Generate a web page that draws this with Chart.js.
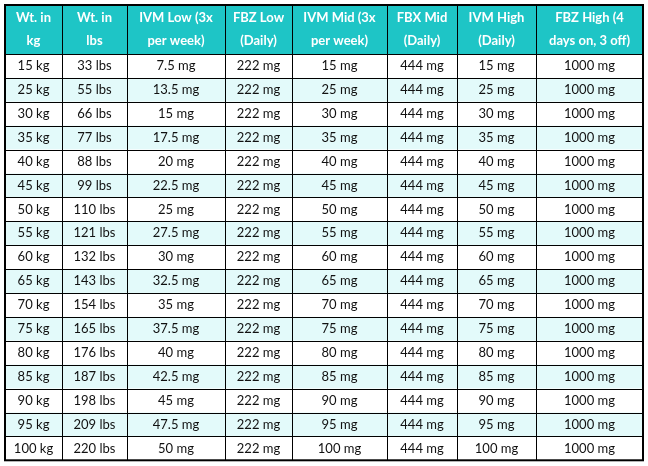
<!DOCTYPE html>
<html>
<head>
<meta charset="utf-8">
<script src="https://cdn.jsdelivr.net/npm/chart.js@4"></script>
<style>
  html, body { margin: 0; padding: 0; background: #fff; }
  #wrap { width: 648px; height: 466px; }
</style>
</head>
<body>
<div id="wrap"><canvas id="tableChart"></canvas></div>
<script>
// Table contents
const headers = [
  ['Wt. in', 'kg'], ['Wt. in', 'lbs'], ['IVM Low (3x', 'per week)'], ['FBZ Low', '(Daily)'],
  ['IVM Mid (3x', 'per week)'], ['FBX Mid', '(Daily)'], ['IVM High', '(Daily)'], ['FBZ High (4', 'days on, 3 off)']
];
const weightKg = [15, 25, 30, 35, 40, 45, 50, 55, 60, 65, 70, 75, 80, 85, 90, 95, 100];
const weightLbs = [33, 55, 66, 77, 88, 99, 110, 121, 132, 143, 154, 165, 176, 187, 198, 209, 220];
const ivmLow = [7.5, 13.5, 15, 17.5, 20, 22.5, 25, 27.5, 30, 32.5, 35, 37.5, 40, 42.5, 45, 47.5, 50];
const fbzLow = [222, 222, 222, 222, 222, 222, 222, 222, 222, 222, 222, 222, 222, 222, 222, 222, 222];
const ivmMid = [15, 25, 30, 35, 40, 45, 50, 55, 60, 65, 70, 75, 80, 85, 90, 95, 100];
const fbxMid = [444, 444, 444, 444, 444, 444, 444, 444, 444, 444, 444, 444, 444, 444, 444, 444, 444];
const ivmHigh = [15, 25, 30, 35, 40, 45, 50, 55, 60, 65, 70, 75, 80, 85, 90, 95, 100];
const fbzHigh = [1000, 1000, 1000, 1000, 1000, 1000, 1000, 1000, 1000, 1000, 1000, 1000, 1000, 1000, 1000, 1000, 1000];

// Layout (scale units = pixels)
const colEdges = [5, 62, 127, 225, 292, 387, 457, 536, 643];
const headerTop = 5, headerBottom = 54, rowHeight = 23.9;

const columns = [
  weightKg.map(v => v + ' kg'),
  weightLbs.map(v => v + ' lbs'),
  ivmLow.map(v => v + ' mg'),
  fbzLow.map(v => v + ' mg'),
  ivmMid.map(v => v + ' mg'),
  fbxMid.map(v => v + ' mg'),
  ivmHigh.map(v => v + ' mg'),
  fbzHigh.map(v => v + ' mg')
];

const tablePlugin = {
  id: 'tablePlugin',
  afterDraw(chart) {
    const ctx = chart.ctx;
    const x = chart.scales.x, y = chart.scales.y;
    const px = v => x.getPixelForValue(v);
    const py = v => y.getPixelForValue(v);
    const left = px(colEdges[0]), right = px(colEdges[colEdges.length - 1]);
    const nRows = weightKg.length;
    const bottom = headerBottom + nRows * rowHeight;

    // header background
    ctx.save();
    ctx.fillStyle = '#1ec5c6';
    ctx.fillRect(left, py(headerTop), right - left, py(headerBottom) - py(headerTop));
    // row backgrounds
    for (let r = 0; r < nRows; r++) {
      const t = headerBottom + r * rowHeight;
      ctx.fillStyle = r % 2 ? '#e3fafa' : '#ffffff';
      ctx.fillRect(left, py(t), right - left, py(t + rowHeight) - py(t));
    }
    // header text
    ctx.textAlign = 'center';
    ctx.textBaseline = 'middle';
    ctx.fillStyle = '#ffffff';
    ctx.font = 'bold 13px Lato, "Open Sans", sans-serif';
    headers.forEach((h, c) => {
      const cx = (px(colEdges[c]) + px(colEdges[c + 1])) / 2;
      ctx.fillText(h[0], cx, py(headerTop + 13));
      ctx.fillText(h[1], cx, py(headerTop + 36));
    });
    // cell text
    ctx.fillStyle = '#111111';
    ctx.font = '13px Lato, "Open Sans", sans-serif';
    columns.forEach((col, c) => {
      const cx = (px(colEdges[c]) + px(colEdges[c + 1])) / 2;
      col.forEach((txt, r) => {
        ctx.fillText(txt, cx, py(headerBottom + r * rowHeight + rowHeight / 2));
      });
    });
    // grid lines
    ctx.strokeStyle = '#000000';
    ctx.lineWidth = 1;
    ctx.beginPath();
    colEdges.forEach(e => {
      ctx.moveTo(Math.round(px(e)) + 0.5, py(headerTop));
      ctx.lineTo(Math.round(px(e)) + 0.5, py(bottom));
    });
    ctx.moveTo(left, Math.round(py(headerTop)) + 0.5);
    ctx.lineTo(right, Math.round(py(headerTop)) + 0.5);
    for (let r = 0; r <= nRows; r++) {
      const yy = Math.round(py(headerBottom + r * rowHeight)) + 0.5;
      ctx.moveTo(left, yy);
      ctx.lineTo(right, yy);
    }
    ctx.stroke();
    ctx.lineWidth = 2;
    ctx.strokeRect(left, py(headerTop), right - left, py(bottom) - py(headerTop));
    ctx.restore();
  }
};

new Chart(document.getElementById('tableChart').getContext('2d'), {
  type: 'scatter',
  data: { datasets: [{ data: [] }] },
  options: {
    responsive: true,
    maintainAspectRatio: false,
    animation: false,
    layout: { padding: 0 },
    plugins: { legend: { display: false }, tooltip: { enabled: false } },
    scales: {
      x: { type: 'linear', min: 0, max: 648, display: false },
      y: { type: 'linear', min: 0, max: 466, reverse: true, display: false }
    }
  },
  plugins: [tablePlugin]
});
</script>
</body>
</html>
